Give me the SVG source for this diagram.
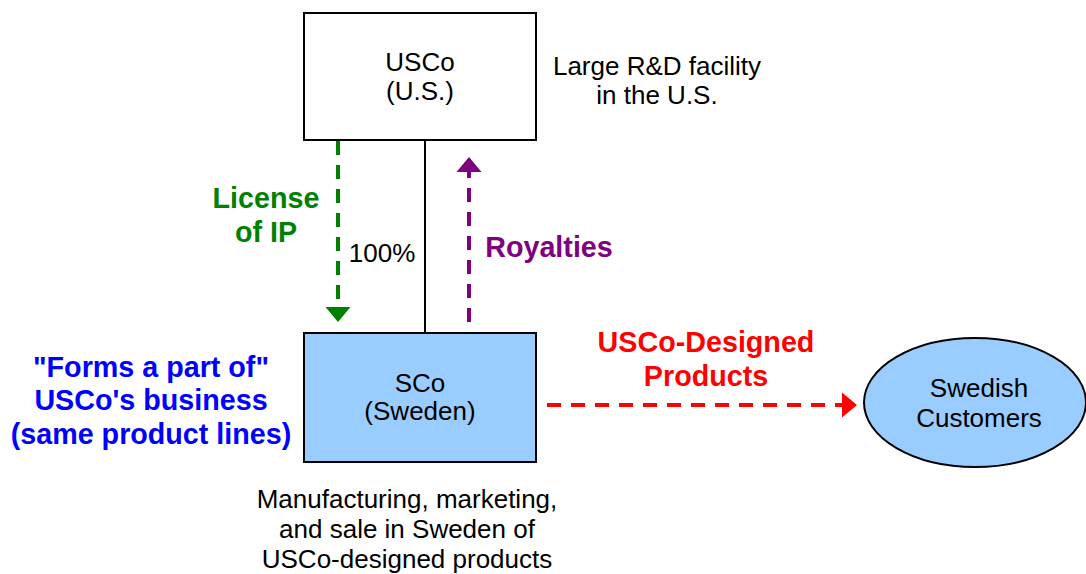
<svg xmlns="http://www.w3.org/2000/svg" width="1086" height="574" viewBox="0 0 1086 574">
<style>
.box{stroke:#000;stroke-width:2}
.t{font-family:"Liberation Sans",Arial,sans-serif;font-size:26px;fill:#000;text-anchor:middle}
.b{font-family:"Liberation Sans",Arial,sans-serif;font-size:28.7px;font-weight:bold;text-anchor:middle}
.dash{fill:none;stroke-width:4;stroke-dasharray:14 10}
</style>
<defs>
<marker id="ag" markerUnits="userSpaceOnUse" markerWidth="16" markerHeight="26" refX="0" refY="12.5" orient="auto" viewBox="0 0 16 25"><path d="M0,0 L15,12.5 L0,25 Z" fill="#008000"/></marker>
<marker id="ap" markerUnits="userSpaceOnUse" markerWidth="16" markerHeight="26" refX="0" refY="12.5" orient="auto" viewBox="0 0 16 25"><path d="M0,0 L15,12.5 L0,25 Z" fill="#800080"/></marker>
<marker id="ar" markerUnits="userSpaceOnUse" markerWidth="16" markerHeight="26" refX="0" refY="12.5" orient="auto" viewBox="0 0 16 25"><path d="M0,0 L15,12.5 L0,25 Z" fill="#FF0000"/></marker>
</defs>
<rect width="1086" height="574" fill="#fff"/>
<g id="connectors">
<line x1="425" y1="140" x2="425" y2="333" stroke="#000" stroke-width="2"/>
<line class="dash" x1="338" y1="141" x2="338" y2="307" stroke="#008000" marker-end="url(#ag)"/>
<line class="dash" x1="469" y1="322" x2="469" y2="172" stroke="#800080" marker-end="url(#ap)"/>
<line class="dash" x1="547" y1="405" x2="842" y2="405" stroke="#FF0000" stroke-dasharray="16 10" marker-end="url(#ar)"/>
<text class="t" x="382" y="262">100%</text>
<text class="b" fill="#008000"><tspan x="266" y="208">License</tspan><tspan x="266" y="242">of IP</tspan></text>
<text class="b" x="549" y="257" fill="#800080">Royalties</text>
<text class="b" fill="#FF0000"><tspan x="706" y="352">USCo-Designed</tspan><tspan x="706" y="386">Products</tspan></text>
</g>
<g id="usco">
<rect class="box" x="304" y="13" width="232" height="127" fill="#fff"/>
<text class="t"><tspan x="420" y="71">USCo</tspan><tspan x="420" y="100">(U.S.)</tspan></text>
</g>
<g id="usco-note">
<text class="t"><tspan x="657" y="75">Large R&amp;D facility</tspan><tspan x="657" y="104">in the U.S.</tspan></text>
</g>
<g id="sco">
<rect class="box" x="304" y="333" width="232" height="129" fill="#99CCFF"/>
<text class="t"><tspan x="420" y="392">SCo</tspan><tspan x="420" y="420">(Sweden)</tspan></text>
</g>
<g id="sco-note">
<text class="t"><tspan x="407" y="508">Manufacturing, marketing,</tspan><tspan x="407" y="538">and sale in Sweden of</tspan><tspan x="407" y="568">USCo-designed products</tspan></text>
</g>
<g id="business-note">
<text class="b" fill="#0000FF"><tspan x="151" y="377">"Forms a part of"</tspan><tspan x="151" y="410">USCo's business</tspan><tspan x="151" y="444">(same product lines)</tspan></text>
</g>
<g id="customers">
<ellipse class="box" cx="975" cy="402.5" rx="111" ry="64.5" fill="#99CCFF"/>
<text class="t"><tspan x="979" y="397">Swedish</tspan><tspan x="979" y="427">Customers</tspan></text>
</g>
</svg>
